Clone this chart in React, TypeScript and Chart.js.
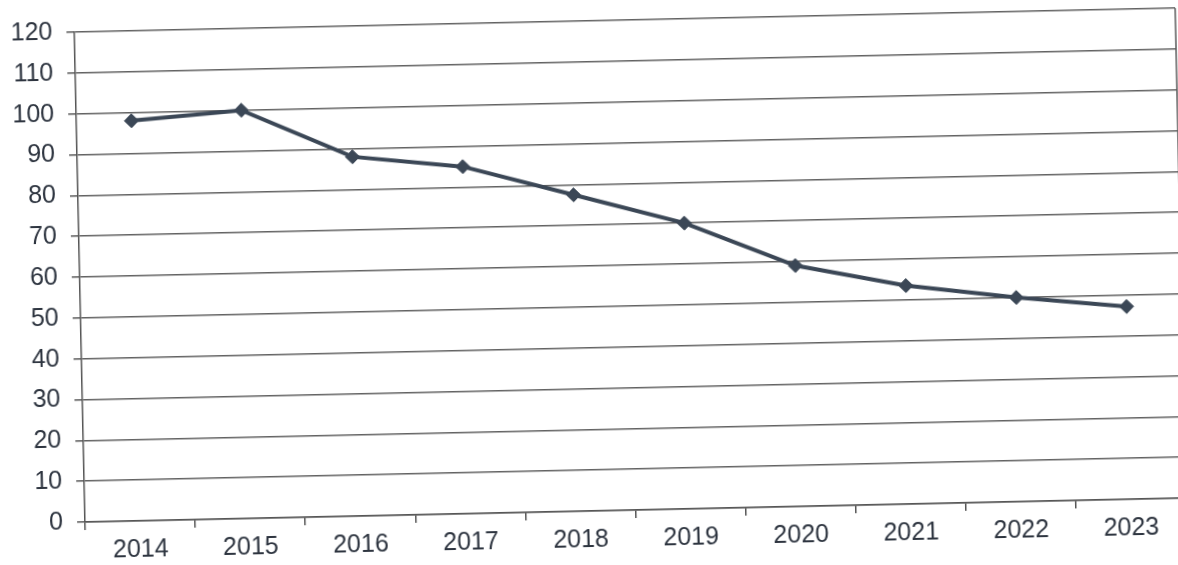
import React, { useEffect, useRef } from "react";
import { Chart, registerables } from "chart.js";

Chart.register(...registerables);

const years = ["2014", "2015", "2016", "2017", "2018", "2019", "2020", "2021", "2022", "2023"];
const values = [98, 100, 88, 85, 77.5, 70, 59, 53.5, 50, 47.2];
const yMin = 0;
const yMax = 120;
const yStep = 10;

const rightBorder = {
  id: "rightBorder",
  afterDraw(chart: any) {
    const { ctx, chartArea } = chart;
    ctx.save();
    ctx.strokeStyle = "#5a5a5a";
    ctx.lineWidth = 1.5;
    ctx.beginPath();
    ctx.moveTo(chartArea.right, chartArea.top);
    ctx.lineTo(chartArea.right, chartArea.bottom);
    ctx.stroke();
    ctx.restore();
  },
};

export default function App() {
  const ref = useRef<HTMLCanvasElement | null>(null);

  useEffect(() => {
    if (!ref.current) return;
    const chart = new Chart(ref.current, {
      type: "line",
      data: {
        labels: years,
        datasets: [
          {
            data: values,
            borderColor: "#3b4756",
            backgroundColor: "#3b4756",
            borderWidth: 4,
            pointStyle: "rectRot",
            pointRadius: 7,
            pointBorderWidth: 1,
            tension: 0,
          },
        ],
      },
      options: {
        animation: false,
        responsive: false,
        maintainAspectRatio: false,
        layout: { padding: { top: 21, right: 9, bottom: 0, left: 0 } },
        plugins: { legend: { display: false }, tooltip: { enabled: false } },
        scales: {
          x: {
            type: "category",
            offset: true,
            grid: {
              offset: true,
              drawOnChartArea: false,
              drawTicks: true,
              tickLength: 8,
              color: "#555",
              lineWidth: 1.5,
            },
            border: { display: true, color: "#555", width: 1.5 },
            ticks: {
              color: "#2e3540",
              padding: 6,
              maxRotation: 0,
              font: { family: "'Liberation Sans', Arial, sans-serif", size: 25 },
            },
            afterFit(scale: any) {
              scale.height = 54;
            },
          },
          y: {
            min: yMin,
            max: yMax,
            ticks: {
              stepSize: yStep,
              color: "#2e3540",
              padding: 14,
              font: { family: "'Liberation Sans', Arial, sans-serif", size: 25 },
            },
            grid: {
              color: "#626262",
              lineWidth: 1.6,
              tickLength: 8,
            },
            border: { display: true, color: "#555", width: 1.5 },
            afterFit(scale: any) {
              scale.width = 80;
              scale.paddingTop = 0;
              scale.paddingBottom = 0;
            },
          },
        },
      },
      plugins: [rightBorder],
    });
    return () => chart.destroy();
  }, []);

  return (
    <div style={{ position: "fixed", inset: 0, overflow: "hidden", background: "#fff" }}>
      <div
        style={{
          position: "absolute",
          left: 0,
          top: 0,
          width: 1190,
          height: 565,
          transformOrigin: "589px 282.5px",
          transform: "rotate(-1.25deg)",
        }}
      >
        <canvas ref={ref} width={1190} height={565} style={{ display: "block" }} />
      </div>
    </div>
  );
}
